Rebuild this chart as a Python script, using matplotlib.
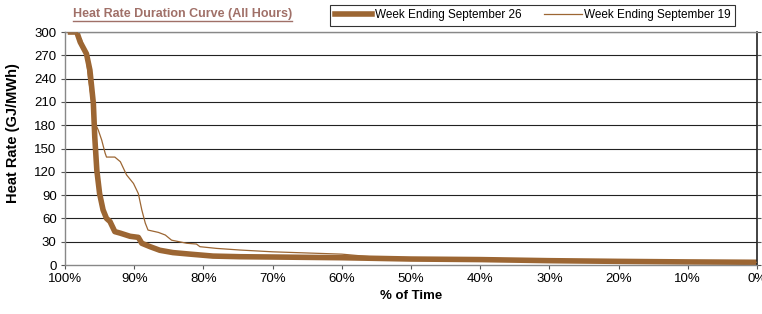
import numpy as np
import matplotlib
matplotlib.use("Agg")
import matplotlib.pyplot as plt
from matplotlib.lines import Line2D

plt.rcParams['font.family'] = ['Liberation Sans', 'DejaVu Sans']

# % of time (duration curve, descending) and heat rate in GJ/MWh
pct_sep26 = [99.6, 98.3, 97.8, 96.9, 96.4, 95.9, 95.7, 95.4, 95.0, 94.5, 94.0, 93.5,
             92.8, 92.0, 90.6, 89.4, 88.9, 87.7, 86.3, 84.4, 81.9, 78.6, 74.7, 70,
             60, 50, 40, 30, 20, 10, 0]
hr_sep26 = [300, 300, 287, 272, 251, 208, 165, 122, 92, 71, 60, 56,
            43, 41, 37, 35.6, 28, 23.6, 19, 16, 14, 11.5, 10.7, 10.3,
            9.4, 7.7, 7.0, 5.6, 4.7, 4.0, 3.5]

pct_sep19 = [99.6, 98.3, 97.6, 97.0, 96.6, 96.2, 95.9, 95.2, 94.7, 94.2, 94.0, 92.8, 92.0,
             91.1, 90.1, 89.4, 88.9, 88.4, 88.0, 86.5, 85.5, 84.6, 82.4, 81.0, 80.5,
             78.1, 74.7, 70, 60, 55, 50, 40, 30, 20, 10, 0]
hr_sep19 = [300, 300, 290, 272, 240, 215, 187, 174, 161, 144, 139, 139, 133,
            116, 105, 92, 71, 54, 45, 42, 38.6, 32, 28, 27, 23.6,
            21.4, 19.3, 17, 14, 10, 8, 7.2, 5.6, 4.7, 4.0, 3.5]

x_ticks = [100, 90, 80, 70, 60, 50, 40, 30, 20, 10, 0]
x_labels = ["100%", "90%", "80%", "70%", "60%", "50%", "40%", "30%", "20%", "10%", "0%"]
y_ticks = list(range(0, 301, 30))

brown = "#9c6633"

fig = plt.figure(figsize=(7.62, 3.14), dpi=100)
ax = fig.add_axes([0.0853, 0.156, 0.908, 0.742])

for y in y_ticks[1:]:
    ax.axhline(y, color="#222222", lw=0.8, zorder=1)

ax.plot(pct_sep19, hr_sep19, color=brown, lw=0.9, zorder=3, label="Week Ending September 19")
ax.plot(pct_sep26, hr_sep26, color=brown, lw=4, zorder=2, solid_capstyle="butt",
        label="Week Ending September 26")

ax.set_xlim(100, 0)
ax.set_ylim(0, 300)
ax.set_xticks(x_ticks)
ax.set_xticklabels(x_labels, fontsize=9.5)
ax.set_yticks(y_ticks)
ax.set_yticklabels([str(v) for v in y_ticks], fontsize=9.5)
ax.tick_params(axis="both", direction="out", length=3, width=0.8, color="#555555", pad=3)
ax.tick_params(axis="y", right=True)

for side in ["left", "bottom", "top"]:
    ax.spines[side].set_color("#888888")
    ax.spines[side].set_linewidth(1)
ax.spines["right"].set_color("#222222")
ax.spines["right"].set_linewidth(1.2)

ax.set_xlabel("% of Time", fontsize=9.5, fontweight="bold", labelpad=3)
fig.text(13 / 762, 1 - 133 / 314, "Heat Rate (GJ/MWh)", fontsize=10.5,
         fontweight="bold", rotation=90, ha="center", va="center")

# underlined title
title = fig.text(0.0955, 0.957, "Heat Rate Duration Curve (All Hours)", fontsize=9,
                 fontweight="bold", color="#a07068", ha="left", va="center")
fig.canvas.draw()
bb = title.get_window_extent().transformed(fig.transFigure.inverted())
fig.add_artist(Line2D([bb.x0, bb.x1], [bb.y0 - 0.004, bb.y0 - 0.004], color="#a07068", lw=1))

h = [Line2D([], [], color=brown, lw=4), Line2D([], [], color=brown, lw=0.9)]
leg = fig.legend(h, ["Week Ending September 26", "Week Ending September 19"],
                 ncol=2, loc="center", bbox_to_anchor=(0.699, 0.951), fontsize=8.5,
                 frameon=True, fancybox=False, edgecolor="black", borderpad=0.4,
                 handlelength=3.2, handletextpad=0.2, columnspacing=1.9)
leg.get_frame().set_linewidth(0.8)

fig.savefig("out.png", dpi=100)
